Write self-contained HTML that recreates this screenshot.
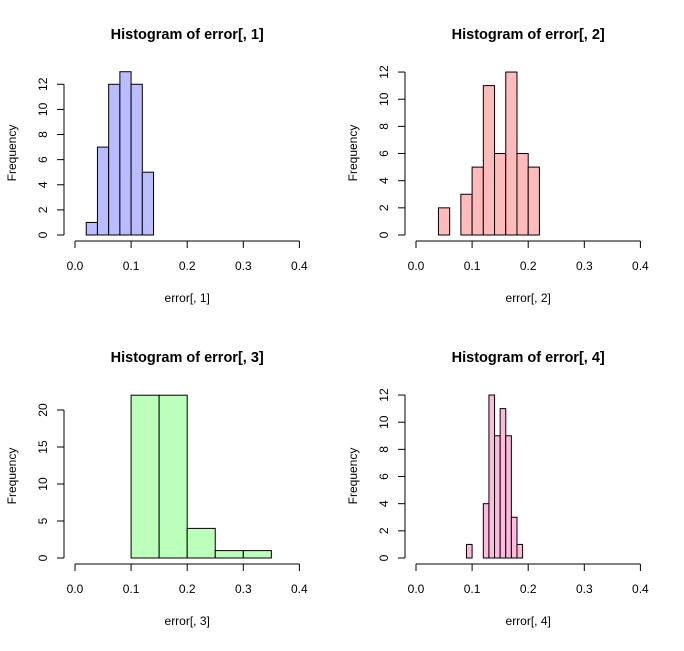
<!DOCTYPE html>
<html><head><meta charset="utf-8"><style>
body{margin:0;background:#fff}
svg text{font-family:"Liberation Sans",sans-serif;fill:#000}
</style></head><body>
<svg id="c" width="684" height="646" xmlns="http://www.w3.org/2000/svg"></svg>
<script>
const counts1=[1,7,12,13,12,5];
const breaks1=[0.02,0.04,0.06,0.08,0.10,0.12,0.14];
const counts2=[2,0,3,5,11,6,12,6,5];
const breaks2=[0.04,0.06,0.08,0.10,0.12,0.14,0.16,0.18,0.20,0.22];
const counts3=[22,22,4,1,1];
const breaks3=[0.10,0.15,0.20,0.25,0.30,0.35];
const counts4=[1,0,0,4,12,9,11,9,3,1];
const breaks4=[0.09,0.10,0.11,0.12,0.13,0.14,0.15,0.16,0.17,0.18,0.19];
const xTicks=[0,0.1,0.2,0.3,0.4];
const yTicks1=[0,2,4,6,8,10,12];
const yTicks3=[0,5,10,15,20];
const NS="http://www.w3.org/2000/svg";
const svg=document.getElementById('c');
function mk(t,a,p){const e=document.createElementNS(NS,t);for(const k in a)e.setAttribute(k,a[k]);(p||svg).appendChild(e);return e;}
const panels=[
 {c:counts1,b:breaks1,yt:yTicks1,x0:75,y0:235,ppu:12.56,top:0,fill:"#bbbbff",n:1},
 {c:counts2,b:breaks2,yt:yTicks1,x0:416,y0:235,ppu:13.58,top:0,fill:"#ffbbbb",n:2},
 {c:counts3,b:breaks3,yt:yTicks3,x0:75,y0:558,ppu:7.4,top:323,fill:"#bbffbb",n:3},
 {c:counts4,b:breaks4,yt:yTicks1,x0:416,y0:558,ppu:13.58,top:323,fill:"#ffbbdd",n:4}
];
panels.forEach(p=>{
 const g=mk('g',{});
 
 
 const sx=v=>p.x0+v*561;
 const sy=v=>p.y0-v*p.ppu;
 const t=mk('text',{x:(sx(0)+sx(0.4))/2,y:p.top+39,'text-anchor':'middle','font-size':'14.5','font-weight':'bold'},g);
 t.textContent='Histogram of error[, '+p.n+']';
 
 
 p.c.forEach((v,i)=>{
  const r=mk('rect',{x:sx(p.b[i]),y:sy(v),width:sx(p.b[i+1])-sx(p.b[i]),height:v*p.ppu,fill:p.fill,stroke:'#000','stroke-width':1},g);
  
  
 });
 const ax=p.top+241;
 const xa=mk('line',{x1:sx(0),x2:sx(0.4),y1:ax,y2:ax,stroke:'#000'},g);
 
 
 xTicks.forEach(v=>{
  mk('line',{x1:sx(v),x2:sx(v),y1:ax,y2:ax+7,stroke:'#000'},g);
  const l=mk('text',{x:sx(v),y:ax+29,'text-anchor':'middle','font-size':'12'},g);
  l.textContent=v.toFixed(1);
  
  
 });
 const xl=mk('text',{x:(sx(0)+sx(0.4))/2,y:p.top+302,'text-anchor':'middle','font-size':'12'},g);
 xl.textContent='error[, '+p.n+']';
 
 
 const ayx=p.x0-11;
 const yt=p.yt;
 const ya=mk('line',{x1:ayx,x2:ayx,y1:sy(yt[0]),y2:sy(yt[yt.length-1]),stroke:'#000'},g);
 
 
 yt.forEach(v=>{
  mk('line',{x1:ayx-7,x2:ayx,y1:sy(v),y2:sy(v),stroke:'#000'},g);
  const lx=ayx-17;
  const l=mk('text',{x:lx,y:sy(v),'text-anchor':'middle','font-size':'12',transform:'rotate(-90 '+lx+' '+sy(v)+')'},g);
  l.textContent=v;
  
  
 });
 const fx=p.x0-59, fy=p.top+153;
 const yl=mk('text',{x:fx,y:fy,'text-anchor':'middle','font-size':'12',transform:'rotate(-90 '+fx+' '+fy+')'},g);
 yl.textContent='Frequency';
 
 
});
</script>
</body></html>
